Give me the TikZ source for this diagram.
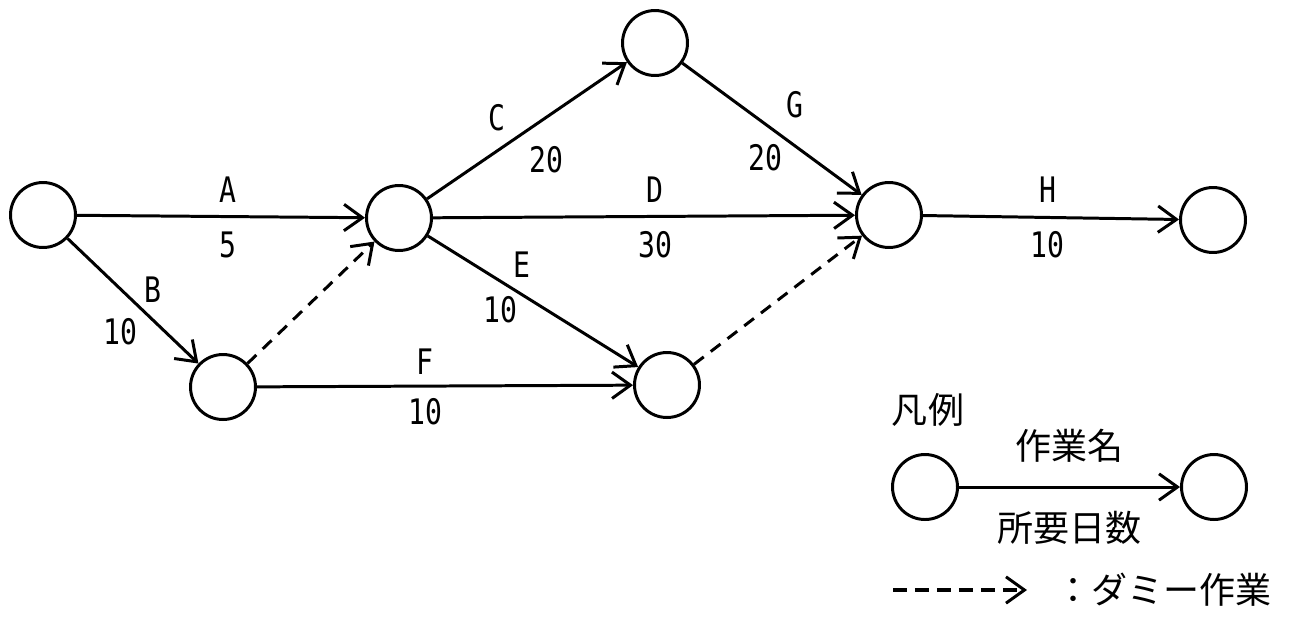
\documentclass[tikz,border=0pt]{standalone}
\usepackage{fontspec}
\usetikzlibrary{arrows.meta}
\setmonofont{DejaVu Sans Mono}
\newfontfamily\jpfont{Noto Sans CJK JP}
\newcommand{\narrow}[1]{\scalebox{0.8}[1]{#1}}
\tikzset{
    ev/.style={circle,draw,line width=1.7pt,minimum size=1.3cm,inner sep=0pt},
    act/.style={line width=1.7pt,-{Straight Barb[length=10.5pt,width=15pt,line width=1.7pt]}},
    dum/.style={act,dash pattern=on 7pt off 5pt},
    lab/.style={font=\ttfamily\fontsize{20}{20}\selectfont,inner sep=0pt},
    jp/.style={font=\jpfont\fontsize{20.5}{20.5}\selectfont,inner sep=0pt},
}
\begin{document}
\begin{tikzpicture}[x=0.02cm,y=-0.02cm]
    \useasboundingbox (0,0) rectangle (1294,620);
    % 結合点
    \node[ev] (n1) at (43,215) {};
    \node[ev] (n2) at (655,43) {};
    \node[ev] (n3) at (399,218) {};
    \node[ev] (n4) at (889,215) {};
    \node[ev] (n5) at (1213,220) {};
    \node[ev] (n6) at (223,387) {};
    \node[ev] (n7) at (667,385) {};
    % 作業
    \draw[act] (n1) -- (n3);
    \draw[act] (n1) -- (n6);
    \draw[act] (n6) -- (n7);
    \draw[act] (n3) -- (n2);
    \draw[act] (n3) -- (n4);
    \draw[act] (n3) -- (n7);
    \draw[act] (n2) -- (n4);
    \draw[act] (n4) -- (n5);
    \draw[dum] (n6) -- (n3);
    \draw[dum] (n7) -- (n4);
    % 作業名と日数
    \foreach \nm/\x/\y in {A/228/190, B/153/290, C/497/118, D/655/190, E/522/265, F/425/362, G/795/105, H/1048/190}{
        \node[lab] (l\nm) at (\x,\y) {\narrow{\nm}};
    }
    \foreach \nm/\x/\y/\d in {A/228/245/5, B/120/332/10, C/546/160/20, D/655/245/30, E/500/310/10, F/425/412/10, G/765/158/20, H/1047/245/10}{
        \node[lab] (d\nm) at (\x,\y) {\narrow{\d}};
    }
    % 凡例
    \node[jp] (hanrei) at (928,410) {凡例};
    \node[ev] (r1) at (925,487) {};
    \node[ev] (r2) at (1214,487) {};
    \draw[act] (r1) -- node[jp,above=13pt] (rname) {作業名} node[jp,below=13pt] (rdays) {所要日数} (r2);
    \coordinate (d1) at (893,590);
    \coordinate (d2) at (1027,590);
    \draw[dum,line width=2.2pt,dash pattern=on 8pt off 4.5pt] (d1) -- (d2);
    \node[jp,anchor=west] (dummy) at (1055,590) {：ダミー作業};
\end{tikzpicture}
\end{document}
